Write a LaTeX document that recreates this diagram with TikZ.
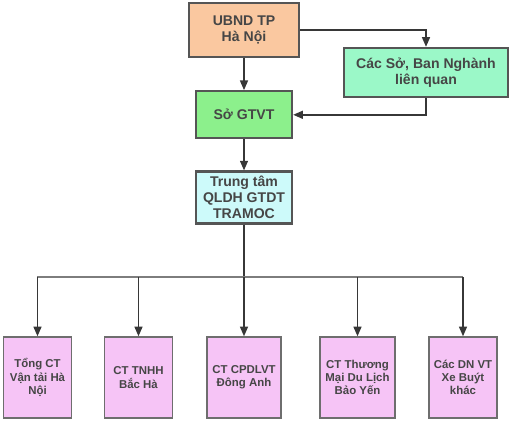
\documentclass[tikz,border=0pt]{standalone}
\usepackage{fontspec}
\setmainfont{Liberation Sans}
\usepackage{tikz}
\usetikzlibrary{positioning,arrows.meta}
\definecolor{boxgray}{RGB}{85, 85, 85}
\definecolor{textgray}{RGB}{70, 70, 70}
\definecolor{linegray}{RGB}{55, 55, 55}
\definecolor{busgray}{RGB}{125, 125, 125}
\definecolor{cityorange}{RGB}{250, 200, 160}
\definecolor{deptmint}{RGB}{155, 248, 200}
\definecolor{transgreen}{RGB}{140, 240, 140}
\definecolor{centercyan}{RGB}{205, 250, 250}
\definecolor{unitpink}{RGB}{246, 196, 246}
\definecolor{unitgray}{RGB}{110, 110, 110}

\begin{document}
\begin{tikzpicture}[
    node distance=0.64cm,
    topbox/.style={rectangle, draw=boxgray, line width=1.3pt, align=center, inner sep=1pt,
                   font=\fontsize{8}{9}\selectfont\bfseries, text=textgray},
    unit/.style={rectangle, draw=unitgray, line width=0.8pt, fill=unitpink, align=center,
                 minimum width=1.36cm, minimum height=1.62cm, inner sep=1pt,
                 font=\fontsize{6.5}{7.5}\selectfont\bfseries, text=textgray},
    arrow/.style={-{Triangle[length=5.5pt, width=4.5pt]}, line width=0.9pt, color=linegray},
    feed/.style={line width=1.1pt, color=busgray}
]
    \useasboundingbox (-4.88,0.6) rectangle (5.38,-7.96);

    % Main column
    \node[topbox, fill=cityorange, minimum width=2.2cm, minimum height=1.08cm] (ubnd) {UBND TP\\Hà Nội};
    \node[topbox, fill=transgreen, minimum width=1.92cm, minimum height=0.94cm, below=of ubnd] (sogtvt) {Sở GTVT};
    \node[topbox, fill=centercyan, minimum width=1.92cm, minimum height=1.04cm, below=0.62cm of sogtvt] (tramoc) {Trung tâm\\QLDH GTDT\\TRAMOC};

    % Side department
    \node[topbox, fill=deptmint, minimum width=3.28cm, minimum height=0.98cm] (cacso) at (3.64,-0.85) {Các Sở, Ban Nghành\\liên quan};

    % Operators
    \coordinate (bus) at (0,-4.94);
    \node[unit] (tongct)  at (-4.13,-6.95) {Tổng CT\\Vận tải Hà\\Nội};
    \node[unit] (bacha)   at (-2.11,-6.95) {CT TNHH\\Bắc Hà};
    \node[unit, minimum width=1.48cm] (donganh) at (0,-6.95) {CT CPDLVT\\Đông Anh};
    \node[unit, minimum width=1.5cm]  (baoyen)  at (2.27,-6.95) {CT Thương\\Mại Du Lịch\\Bảo Yến};
    \node[unit] (xebuyt)  at (4.38,-6.95) {Các DN VT\\Xe Buýt\\khác};

    % Arrows
    \draw[arrow] (ubnd) -- (sogtvt);
    \draw[arrow] (sogtvt) -- (tramoc);
    \draw[arrow] (ubnd.east) -| (cacso.north);
    \draw[arrow] (cacso.south) |- (sogtvt.east);

    % Distribution bus
    \draw[line width=1.2pt, color=linegray] (tramoc.south) -- (bus);
    \draw[feed] (tongct.north |- bus) -- (xebuyt.north |- bus);
    \foreach \unitname in {tongct, bacha, donganh, baoyen, xebuyt}
        \draw[arrow] (\unitname.north |- bus) -- (\unitname.north);
\end{tikzpicture}
\end{document}
